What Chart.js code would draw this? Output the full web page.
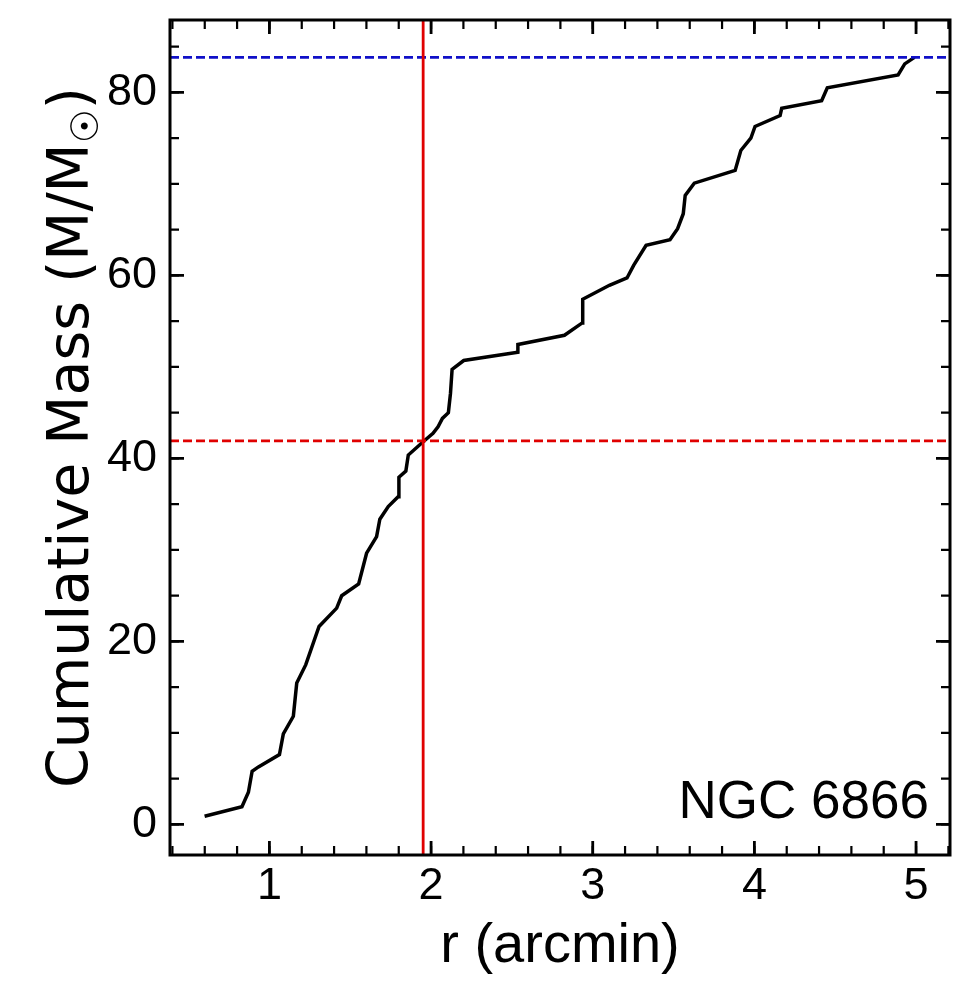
<!DOCTYPE html>
<html>
<head>
<meta charset="utf-8">
<script src="https://cdn.jsdelivr.net/npm/chart.js@4.4.1/dist/chart.umd.min.js"></script>
<style>
  html, body { margin: 0; padding: 0; background: #fff; }
  #wrap { width: 968px; height: 988px; }
</style>
</head>
<body>
<div id="wrap"><canvas id="myChart" width="968" height="988"></canvas></div>
<script>
// radio (arcmin) y masa acumulada
const rValues = [0.599, 0.830, 0.870, 0.893, 0.932, 1.062, 1.086, 1.148, 1.169, 1.225,
    1.307, 1.416, 1.447, 1.552, 1.601, 1.663, 1.683, 1.735, 1.796, 1.801,
    1.844, 1.859, 1.951, 2.012, 2.043, 2.070, 2.107, 2.120, 2.130, 2.202,
    2.537, 2.537, 2.825, 2.935, 2.938, 3.103, 3.212, 3.253, 3.330, 3.478,
    3.525, 3.560, 3.572, 3.628, 3.881, 3.916, 3.978, 4.004, 4.159, 4.169,
    4.416, 4.451, 4.889, 4.930, 4.990];
const massValues = [0.89, 1.92, 3.51, 5.80, 6.28, 7.63, 9.89, 11.81, 15.45, 17.45,
    21.63, 23.63, 24.98, 26.28, 29.63, 31.45, 33.34, 34.72, 35.81, 37.93,
    38.61, 40.36, 41.81, 42.73, 43.45, 44.36, 44.98, 47.09, 49.71, 50.69,
    51.60, 52.44, 53.45, 54.80, 57.38, 58.91, 59.71, 61.09, 63.27, 63.89,
    65.10, 66.73, 68.73, 70.07, 71.46, 73.64, 74.98, 76.26, 77.46, 78.25,
    79.09, 80.48, 81.90, 83.10, 83.82];

const totalMass = 83.82;
const halfMass = 41.9;
const rHalf = 1.951;

const xTickValues = [1, 2, 3, 4, 5];
const yTickValues = [0, 20, 40, 60, 80];
const xMinorStep = 0.2;
const yMinorStep = 5;

const xMin = 0.385, xMax = 5.21;
const yMin = -3.35, yMax = 87.9;

const fuente = '"Liberation Sans", Arial, sans-serif';

const curva = rValues.map(function (r, i) { return { x: r, y: massValues[i] }; });

// ticks hacia adentro en los cuatro lados + marco + titulo del eje y + etiqueta
const marcoPlugin = {
    id: 'marco',
    afterDraw: function (chart) {
        const ctx = chart.ctx;
        const a = chart.chartArea;
        const sx = chart.scales.x;
        const sy = chart.scales.y;
        ctx.save();
        ctx.strokeStyle = '#000';

        // ticks menores
        ctx.lineWidth = 2.2;
        for (let v = Math.ceil(xMin / xMinorStep) * xMinorStep; v <= xMax; v += xMinorStep) {
            const p = sx.getPixelForValue(v);
            ctx.beginPath();
            ctx.moveTo(p, a.bottom); ctx.lineTo(p, a.bottom - 9);
            ctx.moveTo(p, a.top); ctx.lineTo(p, a.top + 9);
            ctx.stroke();
        }
        for (let v = Math.ceil(yMin / yMinorStep) * yMinorStep; v <= yMax; v += yMinorStep) {
            const p = sy.getPixelForValue(v);
            ctx.beginPath();
            ctx.moveTo(a.left, p); ctx.lineTo(a.left + 9, p);
            ctx.moveTo(a.right, p); ctx.lineTo(a.right - 9, p);
            ctx.stroke();
        }
        // ticks mayores
        ctx.lineWidth = 2.8;
        xTickValues.forEach(function (v) {
            const p = sx.getPixelForValue(v);
            ctx.beginPath();
            ctx.moveTo(p, a.bottom); ctx.lineTo(p, a.bottom - 14);
            ctx.moveTo(p, a.top); ctx.lineTo(p, a.top + 14);
            ctx.stroke();
        });
        yTickValues.forEach(function (v) {
            const p = sy.getPixelForValue(v);
            ctx.beginPath();
            ctx.moveTo(a.left, p); ctx.lineTo(a.left + 14, p);
            ctx.moveTo(a.right, p); ctx.lineTo(a.right - 14, p);
            ctx.stroke();
        });

        // marco
        ctx.lineWidth = 3;
        ctx.strokeRect(a.left, a.top, a.right - a.left, a.bottom - a.top);

        // etiqueta del cumulo
        ctx.fillStyle = '#000';
        ctx.font = '53px ' + fuente;
        ctx.textAlign = 'right';
        ctx.textBaseline = 'alphabetic';
        ctx.fillText('NGC 6866', a.right - 21, a.bottom - 37);

        // titulo del eje y con subindice
        const cy = (a.top + a.bottom) / 2;
        ctx.translate(88, cy);
        ctx.rotate(-Math.PI / 2);
        const fy = '57px "DejaVu Sans", sans-serif';
        const fs = '38px "DejaVu Sans", sans-serif';
        const t1 = 'Cumulative Mass (M/M';
        const t2 = '\u2609';
        const t3 = ')';
        ctx.font = fy;
        const w1 = ctx.measureText(t1).width;
        const w3 = ctx.measureText(t3).width;
        ctx.font = fs;
        const w2 = ctx.measureText(t2).width;
        let x0 = -(w1 + w2 + w3) / 2;
        ctx.textAlign = 'left';
        ctx.font = fy;
        ctx.fillText(t1, x0, 0);
        ctx.font = fs;
        ctx.fillText(t2, x0 + w1, 10);
        ctx.font = fy;
        ctx.fillText(t3, x0 + w1 + w2, 0);
        ctx.restore();
    }
};

const chartConfig = {
    type: 'scatter',
    data: {
        datasets: [
            {
                label: 'r_half',
                data: [{ x: rHalf, y: yMin }, { x: rHalf, y: yMax }],
                showLine: true, borderColor: '#e00000', borderWidth: 2.8,
                pointRadius: 0, fill: false
            },
            {
                label: 'half mass',
                data: [{ x: xMin, y: halfMass }, { x: xMax, y: halfMass }],
                showLine: true, borderColor: '#e00000', borderWidth: 2.8,
                borderDash: [9, 4], pointRadius: 0, fill: false
            },
            {
                label: 'total mass',
                data: [{ x: xMin, y: totalMass }, { x: xMax, y: totalMass }],
                showLine: true, borderColor: '#1010c8', borderWidth: 2.8,
                borderDash: [9, 4], pointRadius: 0, fill: false
            },
            {
                label: 'Cumulative mass',
                data: curva,
                showLine: true, borderColor: '#000', borderWidth: 3.5,
                pointRadius: 0, tension: 0, fill: false
            }
        ]
    },
    options: {
        responsive: false,
        animation: false,
        events: [],
        layout: { padding: { top: 20, right: 18, left: 0, bottom: 0 } },
        plugins: {
            legend: { display: false },
            tooltip: { enabled: false }
        },
        scales: {
            x: {
                type: 'linear',
                min: xMin, max: xMax,
                grid: { display: false, drawTicks: false },
                border: { display: false },
                afterBuildTicks: function (scale) {
                    scale.ticks = xTickValues.map(function (v) { return { value: v }; });
                },
                afterFit: function (scale) {
                    scale.height = 133;
                    scale.paddingLeft = 0;
                    scale.paddingRight = 0;
                },
                ticks: {
                    color: '#000', padding: 5,
                    font: { family: fuente, size: 45 },
                    maxRotation: 0, autoSkip: false
                },
                title: {
                    display: true, text: 'r (arcmin)', color: '#000',
                    font: { family: fuente, size: 56 },
                    padding: { top: 0, bottom: 8 }
                }
            },
            y: {
                type: 'linear',
                min: yMin, max: yMax,
                grid: { display: false, drawTicks: false },
                border: { display: false },
                afterBuildTicks: function (scale) {
                    scale.ticks = yTickValues.map(function (v) { return { value: v }; });
                },
                afterFit: function (scale) {
                    scale.width = 170;
                    scale.paddingTop = 0;
                    scale.paddingBottom = 0;
                },
                ticks: {
                    color: '#000', padding: 13,
                    font: { family: fuente, size: 45 },
                    autoSkip: false
                }
            }
        }
    },
    plugins: [marcoPlugin]
};

new Chart(document.getElementById('myChart'), chartConfig);
</script>
</body>
</html>
